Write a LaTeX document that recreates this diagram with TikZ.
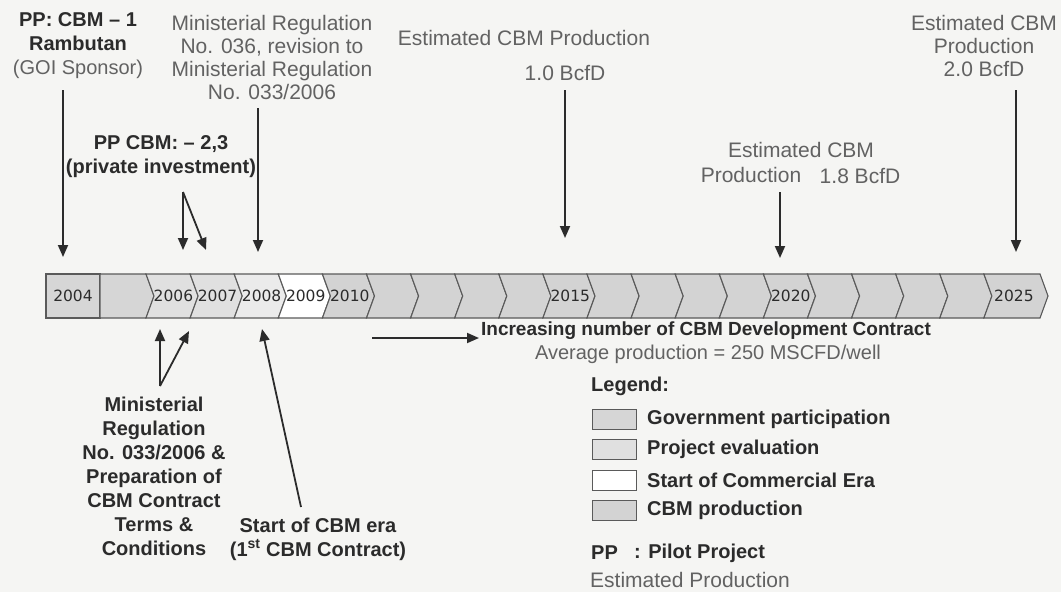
\documentclass[tikz,border=0pt]{standalone}
\usepackage{fontspec}
\setmainfont{Liberation Sans}
\newfontfamily\yearfont{DejaVu Sans}
\usetikzlibrary{arrows.meta}
\definecolor{bg}{HTML}{F5F5F3}
\definecolor{ink}{HTML}{2B2B2B}
\definecolor{grayink}{HTML}{626262}
\definecolor{govfill}{HTML}{D6D6D6}
\definecolor{evalfill}{HTML}{E0E0E0}
\definecolor{eightfill}{HTML}{EBEBEB}
\definecolor{prodfill}{HTML}{D3D3D3}
\definecolor{edge}{HTML}{5A5A5A}
\tikzset{
  dark/.style={font=\fontsize{20}{24}\selectfont\bfseries, text=ink, align=center, inner sep=0pt},
  light/.style={font=\fontsize{21}{23}\selectfont, text=grayink, align=center, inner sep=0pt},
  arr/.style={draw=ink, line width=1.8pt, -{Triangle[length=12pt,width=10pt]}},
  yearlbl/.style={font=\yearfont\fontsize{15.5}{15.5}\selectfont, text=ink, anchor=west, inner sep=0pt},
  seg/.style={draw=edge, line width=1.1pt, line join=miter},
  legbox/.style={draw=edge, line width=1.1pt, minimum width=44pt, minimum height=20pt, inner sep=0pt},
}
\begin{document}
\begin{tikzpicture}[x=1pt,y=-1pt]
\useasboundingbox (0,0) rectangle (1061,592);
\fill[bg] (0,0) rectangle (1061,592);

% ---- timeline bar ----
\path[seg, fill=govfill] (46,274) rectangle (100,318);
\node[yearlbl, anchor=center] (y2004) at (73,296) {2004};
\path[seg, fill=govfill] (100,274) -- (146,274) -- (154,296) -- (146,318) -- (100,318) -- cycle;
\foreach \i in {0,...,19}{
  \pgfmathsetmacro\xa{146+44.1*\i}
  \pgfmathsetmacro\xb{\i==19 ? 1040 : 146+44.1*(\i+1)}
  \ifcase\i \def\fc{evalfill}\or \def\fc{evalfill}\or \def\fc{eightfill}\or \def\fc{white}\else \def\fc{prodfill}\fi
  \path[seg, fill=\fc] (\xa,274) -- (\xb,274) -- ({\xb+8},296) -- (\xb,318) -- (\xa,318) -- ({\xa+8},296) -- cycle;
}
\node[yearlbl] (y2006) at (153.5,296) {2006};
\node[yearlbl] (y2007) at (197.6,296) {2007};
\node[yearlbl] (y2008) at (241.7,296) {2008};
\node[yearlbl] (y2009) at (285.8,296) {2009};
\node[yearlbl] (y2010) at (329.9,296) {2010};
\node[yearlbl] (y2015) at (550.4,296) {2015};
\node[yearlbl] (y2020) at (770.9,296) {2020};
\node[yearlbl] (y2025) at (994,296) {2025};

% ---- top labels ----
\node[dark] (t1) at (78,46) {PP: CBM – 1\\Rambutan\\{\mdseries\color{grayink}(GOI Sponsor)}};
\node[light] (t2) at (272,57) {Ministerial Regulation\\No. 036, revision to\\Ministerial Regulation\\No. 033/2006};
\node[dark] (t3) at (161,157) {PP CBM: – 2,3\\(private investment)};
\node[light] (t4) at (524,38) {Estimated CBM Production};
\node[light] (t4b) at (565,73) {1.0 BcfD};
\node[light] (t5) at (801,150) {Estimated CBM};
\node[light] (t5b) at (751,175) {Production};
\node[light] (t5c) at (860,176) {1.8 BcfD};
\node[light] (t6) at (984,46) {Estimated CBM\\Production\\2.0 BcfD};

% ---- top arrows ----
\coordinate (a1s) at (63,90);   \coordinate (a1e) at (63,257);
\coordinate (a2s) at (258,108); \coordinate (a2e) at (258,252);
\coordinate (a3s) at (183,192); \coordinate (a3e) at (183,250); \coordinate (a3f) at (206,250);
\coordinate (a4s) at (565,90);  \coordinate (a4e) at (565,238);
\coordinate (a5s) at (780,192); \coordinate (a5e) at (780,258);
\coordinate (a6s) at (1016,90); \coordinate (a6e) at (1016,252);
\draw[arr] (a1s) -- (a1e);
\draw[arr] (a2s) -- (a2e);
\draw[arr] (a3s) -- (a3e);
\draw[arr] (a3s) -- (a3f);
\draw[arr] (a4s) -- (a4e);
\draw[arr] (a5s) -- (a5e);
\draw[arr] (a6s) -- (a6e);

% ---- bottom labels and arrows ----
\node[dark] (t7) at (154,476) {Ministerial\\Regulation\\No. 033/2006 \&\\Preparation of\\CBM Contract\\Terms \&\\Conditions};
\node[dark] (t8) at (318,539) {Start of CBM era\\(1\textsuperscript{st} CBM Contract)};
\coordinate (b1s) at (160,386); \coordinate (b1e) at (160,329); \coordinate (b1f) at (189,331);
\coordinate (b2s) at (301,507); \coordinate (b2e) at (262,329);
\draw[arr] (b1s) -- (b1e);
\draw[arr] (b1s) -- (b1f);
\draw[arr] (b2s) -- (b2e);

\coordinate (h1s) at (372,338); \coordinate (h1e) at (479,338);
\draw[arr] (h1s) -- (h1e);
\node[dark, font=\fontsize{19}{23}\selectfont\bfseries] (t9) at (706,331) {Increasing number of CBM Development Contract};
\node[light, font=\fontsize{20}{23}\selectfont] (t10) at (708,354) {Average production = 250 MSCFD/well};

% ---- legend ----
\node[dark, anchor=west] (lg) at (591,386) {Legend:};
\node[legbox, fill=govfill, anchor=north west] (lb1) at (592,409) {};
\node[legbox, fill=evalfill, anchor=north west] (lb2) at (592,439) {};
\node[legbox, fill=white, anchor=north west] (lb3) at (592,470) {};
\node[legbox, fill=prodfill, anchor=north west] (lb4) at (592,500) {};
\node[dark, anchor=west] (lt1) at (647,419) {Government participation};
\node[dark, anchor=west] (lt2) at (647,449) {Project evaluation};
\node[dark, anchor=west] (lt3) at (647,480) {Start of Commercial Era};
\node[dark, anchor=west] (lt4) at (647,510) {CBM production};
\node[dark, anchor=west] (pp1) at (591,553) {PP};
\node[dark, anchor=west] (pp2) at (634,553) {: Pilot Project};
\node[light, anchor=west] (ep) at (590,580) {Estimated Production};
\end{tikzpicture}
\end{document}
